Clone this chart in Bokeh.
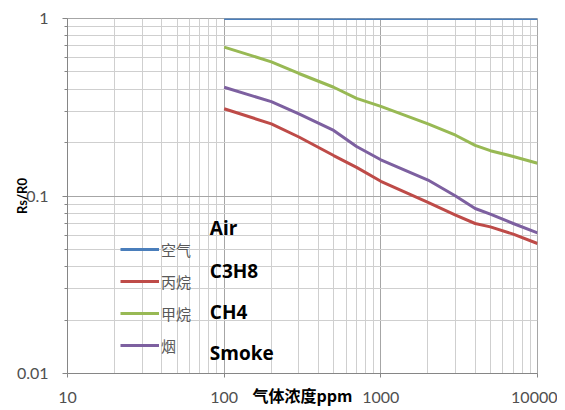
from bokeh.plotting import figure
from bokeh.models import Range1d, FixedTicker, Legend, LegendItem, Label, CustomJSTickFormatter
from bokeh.embed import file_html
from bokeh.resources import INLINE

# ---- data ----
ppm = [100, 200, 300, 500, 700, 1000, 2000, 3000, 4000, 5000, 7000, 10000]
air_ppm = [100, 10000]
air = [1.0, 1.0]
c3h8 = [0.31, 0.255, 0.215, 0.169, 0.145, 0.121, 0.092, 0.078, 0.070, 0.067, 0.061, 0.054]
ch4 = [0.69, 0.57, 0.49, 0.41, 0.355, 0.32, 0.255, 0.22, 0.193, 0.18, 0.167, 0.153]
smoke = [0.41, 0.34, 0.29, 0.234, 0.19, 0.16, 0.123, 0.10, 0.085, 0.079, 0.070, 0.062]

series_names = ["空气", "丙烷", "甲烷", "烟"]
english_names = ["Air", "C3H8", "CH4", "Smoke"]
x_ticks = [10, 100, 1000, 10000]
x_tick_labels = ["10", "100", "1000", "10000"]
y_ticks = [0.01, 0.1, 1]
y_tick_labels = ["0.01", "0.1", "1"]
x_label = "气体浓度ppm"
y_label = "Rs/R0"

colors = ["#4a7ebb", "#be4b48", "#98b954", "#7d60a0"]

p = figure(width=557, height=409, x_axis_type="log", y_axis_type="log",
           x_range=Range1d(10, 10000), y_range=Range1d(0.01, 1),
           output_backend="svg", toolbar_location=None,
           min_border_left=67, min_border_top=18, min_border_right=20, min_border_bottom=36)
p.background_fill_color = "white"
p.border_fill_color = "white"
p.outline_line_color = "#a6a6a6"

x_minor = [m * 10 ** e for e in (1, 2, 3) for m in range(2, 10)]
y_minor = [m * 10.0 ** e for e in (-2, -1) for m in range(2, 10)]
xt = FixedTicker(ticks=x_ticks, minor_ticks=x_minor)
yt = FixedTicker(ticks=y_ticks, minor_ticks=y_minor)
p.xaxis.ticker = xt
p.yaxis.ticker = yt
p.xgrid.ticker = xt
p.ygrid.ticker = yt

fmt_code = """
let best = 0, bd = Infinity;
for (let i = 0; i < tv.length; i++) {
  const d = Math.abs(Math.log10(tv[i]) - Math.log10(tick));
  if (d < bd) { bd = d; best = i; }
}
return tl[best];
"""
p.xaxis.formatter = CustomJSTickFormatter(args=dict(tv=x_ticks, tl=x_tick_labels), code=fmt_code)
p.yaxis.formatter = CustomJSTickFormatter(args=dict(tv=y_ticks, tl=y_tick_labels), code=fmt_code)

for g in (p.xgrid, p.ygrid):
    g.grid_line_color = "#a6a6a6"
    g.grid_line_width = 1
    g.minor_grid_line_color = "#cfcfcf"
    g.minor_grid_line_width = 1

for ax in (p.xaxis, p.yaxis):
    ax.axis_line_color = "#868686"
    ax.major_tick_line_color = "#868686"
    ax.minor_tick_line_color = "#868686"
    ax.major_label_text_font = "Lato"
    ax.major_label_text_font_size = "16px"
    ax.major_label_text_color = "#505050"

p.yaxis.major_tick_out = 5
p.yaxis.major_tick_in = 0
p.yaxis.minor_tick_out = 3
p.yaxis.minor_tick_in = 0
p.yaxis.major_label_standoff = 14
p.xaxis.major_tick_out = 4
p.xaxis.major_tick_in = 0
p.xaxis.minor_tick_out = 0
p.xaxis.minor_tick_in = 0
p.xaxis.major_label_standoff = 14

p.yaxis.axis_label = y_label
p.yaxis.axis_label_text_font = "Lato"
p.yaxis.axis_label_text_font_size = "13px"
p.yaxis.axis_label_text_font_style = "bold"
p.yaxis.axis_label_text_color = "#000000"
p.yaxis.axis_label_standoff = -16

p.xaxis.axis_label = x_label
p.xaxis.axis_label_text_font = "Noto Sans CJK SC"
p.xaxis.axis_label_text_font_size = "16px"
p.xaxis.axis_label_text_font_style = "bold"
p.xaxis.axis_label_text_color = "#000000"
p.xaxis.axis_label_standoff = -23

r_air = p.line(air_ppm, air, line_color=colors[0], line_width=3)
r_c3h8 = p.line(ppm, c3h8, line_color=colors[1], line_width=3)
r_ch4 = p.line(ppm, ch4, line_color=colors[2], line_width=3)
r_smoke = p.line(ppm, smoke, line_color=colors[3], line_width=3)

renderers = [r_air, r_c3h8, r_ch4, r_smoke]
legend = Legend(items=[LegendItem(label=n, renderers=[r]) for n, r in zip(series_names, renderers)],
                location=(53, 17), background_fill_alpha=0, border_line_alpha=0,
                padding=0, margin=0, spacing=10, glyph_width=39, glyph_height=22,
                label_height=22, label_standoff=2,
                label_text_font="Noto Sans CJK SC", label_text_font_size="15px",
                label_text_color="#595959")
p.add_layout(legend)

# English annotations next to legend
eng_x = 81
eng_y = [0.0656, 0.038, 0.0223, 0.0131]
for name, yy in zip(english_names, eng_y):
    p.add_layout(Label(x=eng_x, y=yy, text=name, text_font="Open Sans", text_font_style="bold",
                       text_font_size="19px", text_color="black", text_baseline="middle"))

open("out.html", "w").write(file_html(p, INLINE))
